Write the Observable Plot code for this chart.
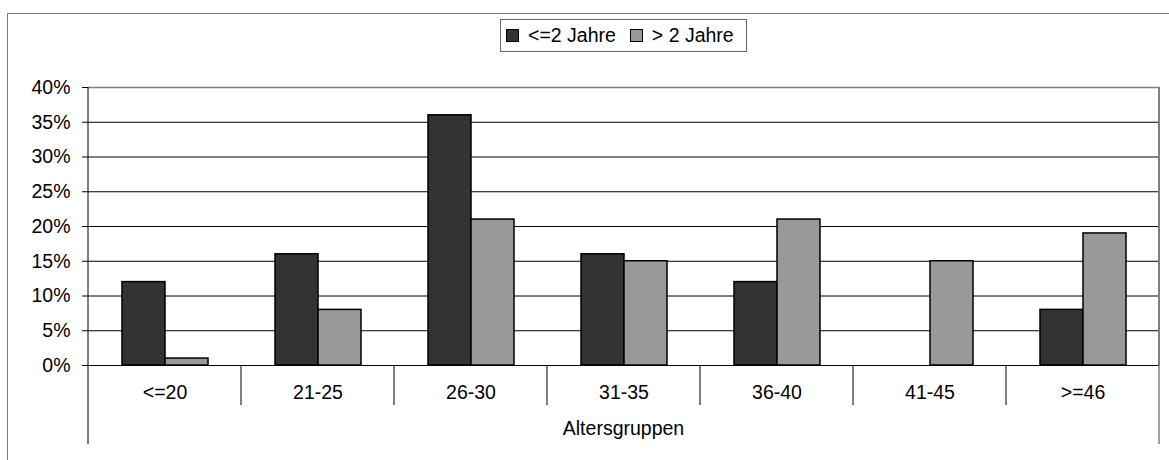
<!DOCTYPE html>
<html>
<head>
<meta charset="utf-8">
<script src="https://cdn.jsdelivr.net/npm/d3@7"></script>
<script src="https://cdn.jsdelivr.net/npm/@observablehq/plot@0.6"></script>
<style>
  html, body { margin: 0; padding: 0; background: #fff; }
  #wrap { position: relative; width: 1169px; height: 460px; overflow: hidden; font-family: "Liberation Sans", Arial, sans-serif; }
  #frame { position: absolute; left: 7px; top: 13px; width: 1170px; height: 470px; border: 1.5px solid #7a7a7a; box-sizing: border-box; }
  #legend { position: absolute; left: 500px; top: 19px; width: 247px; height: 33px; border: 1.5px solid #666; box-sizing: border-box; background: #fff;
            display: flex; align-items: center; font-size: 19.5px; color: #000; padding-left: 5px; z-index: 2; }
  .sw { display: inline-block; width: 11px; height: 11px; border: 1px solid #000; margin-right: 9px; }
  .item { display: flex; align-items: center; margin-right: 14px; white-space: nowrap; }
  #chart { position: absolute; left: 0; top: 0; }
</style>
</head>
<body>
<div id="wrap">
  <div id="frame"></div>
  <div id="legend"></div>
  <div id="chart"></div>
</div>
<script>
const categories = ["<=20", "21-25", "26-30", "31-35", "36-40", "41-45", ">=46"];
const seriesNames = ["<=2 Jahre", "> 2 Jahre"];
const shortTerm = [12, 16, 36, 16, 12, 0, 8];   // <=2 Jahre
const longTerm = [1, 8, 21, 15, 21, 15, 19];     // > 2 Jahre
const yTicks = [0, 5, 10, 15, 20, 25, 30, 35, 40];
const seriesColors = ["#333333", "#999999"];
const axisTitle = "Altersgruppen";

const data = [];
categories.forEach((c, i) => {
  data.push({cat: c, series: seriesNames[0], value: shortTerm[i]});
  data.push({cat: c, series: seriesNames[1], value: longTerm[i]});
});

const W = 1169, H = 460;
const plot = Plot.plot({
  width: W,
  height: H,
  marginLeft: 87,
  marginRight: 10,
  marginTop: 87,
  marginBottom: 95,
  style: {fontFamily: '"Liberation Sans", Arial, sans-serif', fontSize: "19.5px", color: "#000", background: "transparent", overflow: "visible"},
  fx: {domain: categories, padding: 0, label: null, axis: "bottom", tickSize: 0, tickPadding: 20},
  x: {domain: seriesNames, paddingInner: 0, paddingOuter: 0.75, axis: null},
  y: {domain: [0, 40], ticks: yTicks, tickFormat: d => d + "%", label: null, tickSize: 6, tickPadding: 12},
  color: {domain: seriesNames, range: seriesColors},
  marks: [
    Plot.ruleY(yTicks.filter(t => t > 0 && t < 40), {stroke: "#000", strokeWidth: 1}),
    Plot.ruleY([40], {stroke: "#808080", strokeWidth: 1.5}),
    Plot.barY(data, {fx: "cat", x: "series", y: "value", fill: "series", stroke: "#000", strokeWidth: 1.5}),
    Plot.ruleY([0], {stroke: "#000", strokeWidth: 1})
  ]
});
document.getElementById("chart").appendChild(plot);

// extra axis lines using the plot's scales
const fx = plot.scale("fx");
const y = plot.scale("y");
const svg = d3.select(plot);
const y0 = y.apply(0), yTop = y.apply(40);
const left = fx.apply(categories[0]);
const right = fx.apply(categories[categories.length - 1]) + fx.bandwidth;
const g = svg.append("g");
// y axis line extending down to the group level
g.append("line").attr("x1", left).attr("x2", left).attr("y1", yTop).attr("y2", y0 + 79).attr("stroke", "#000").attr("stroke-width", 1);
// right border of plot area
g.append("line").attr("x1", right).attr("x2", right).attr("y1", yTop).attr("y2", y0).attr("stroke", "#808080").attr("stroke-width", 2);
g.append("line").attr("x1", right).attr("x2", right).attr("y1", y0).attr("y2", y0 + 79).attr("stroke", "#444").attr("stroke-width", 1);
// category separators
categories.slice(1).forEach(c => {
  const x = fx.apply(c);
  g.append("line").attr("x1", x).attr("x2", x).attr("y1", y0).attr("y2", y0 + 40).attr("stroke", "#000").attr("stroke-width", 1);
});
// group title
g.append("text").attr("x", (left + right) / 2).attr("y", y0 + 70).attr("text-anchor", "middle")
  .attr("font-size", "19.5px").attr("fill", "#000").text(axisTitle);

// legend
const legend = d3.select("#legend");
seriesNames.forEach((s, i) => {
  const it = legend.append("div").attr("class", "item");
  it.append("span").attr("class", "sw").style("background", seriesColors[i]);
  it.append("span").text(s);
});
</script>
</body>
</html>
